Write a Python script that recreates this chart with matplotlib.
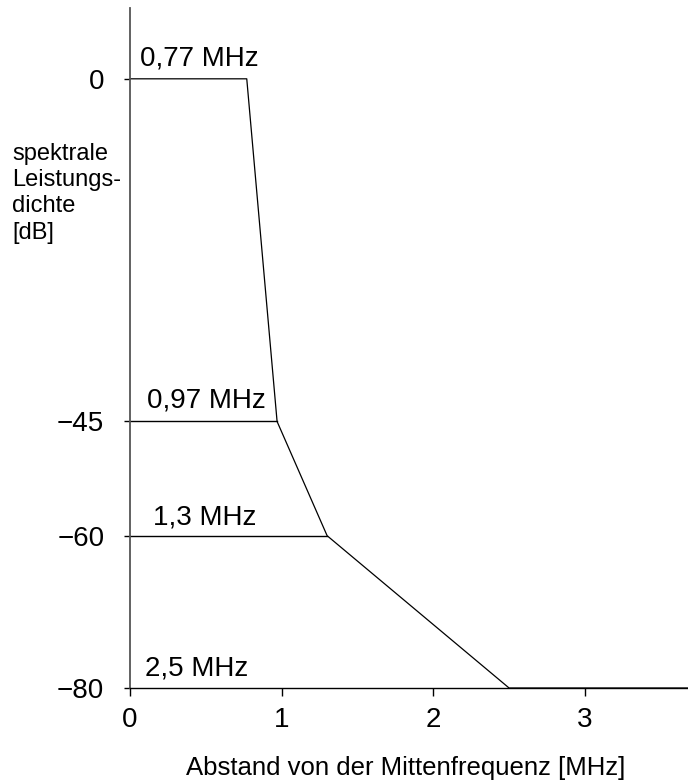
import matplotlib
matplotlib.use("Agg")
import matplotlib.pyplot as plt

# Eckpunkte der Maske: Abstand [MHz] und Pegel [dB]
freqs = [0, 0.77, 0.97, 1.3, 2.5, 3.7]
levels = [0, 0, -45, -60, -80, -80]

# Hilfslinien auf den Stufen
step_levels = [-45, -60]
step_ends = [0.97, 1.3]

# Beschriftungen der Eckfrequenzen
corner_labels = ["0,77 MHz", "0,97 MHz", "1,3 MHz", "2,5 MHz"]
corner_levels = [0, -45, -60, -80]
corner_x = [0.066, 0.11, 0.15, 0.10]
corner_dy = [5, 6, 4, 5]

yticks = [0, -45, -60, -80]
xticks = [0, 1, 2, 3]

plt.rcParams["font.family"] = ["Liberation Sans", "DejaVu Sans"]

fig = plt.figure(figsize=(6.88, 7.82), dpi=100)
ax = fig.add_axes([130 / 688, 1 - 688 / 782, 1 - 130 / 688, (688 - 8) / 782])

ax.plot(freqs, levels, color="black", lw=0.9, clip_on=False)
for lev, end in zip(step_levels, step_ends):
    ax.plot([0, end], [lev, lev], color="black", lw=1.0)

for txt, lev, x, dy in zip(corner_labels, corner_levels, corner_x, corner_dy):
    ax.annotate(txt, xy=(x, lev), xytext=(0, dy), textcoords="offset points",
                fontsize=20, ha="left", va="bottom")

ax.set_xlim(0, 3.68)
ax.set_ylim(-80, 9.3)

ax.set_xticks(xticks)
ax.set_xticklabels([str(t) for t in xticks], fontsize=20)
ax.set_yticks(yticks)
ax.set_yticklabels(["0", "\u221245", "\u221260", "\u221280"], fontsize=20)
ax.tick_params(axis="y", length=4.5, width=1.0, pad=14)
ax.tick_params(axis="x", length=6, width=1.0, pad=8)

for side in ["top", "right"]:
    ax.spines[side].set_visible(False)
ax.spines["left"].set_color("#555555")
ax.spines["left"].set_linewidth(1.3)
ax.spines["bottom"].set_linewidth(1.0)

fig.text(12 / 688, 1 - 143 / 782, "spektrale\nLeistungs-\ndichte\n[dB]",
         fontsize=17, ha="left", va="top", linespacing=1.25)
fig.text(406 / 688, 1 - 768 / 782, "Abstand von der Mittenfrequenz [MHz]",
         fontsize=18.5, ha="center", va="center")

fig.savefig("out.png", dpi=100)
